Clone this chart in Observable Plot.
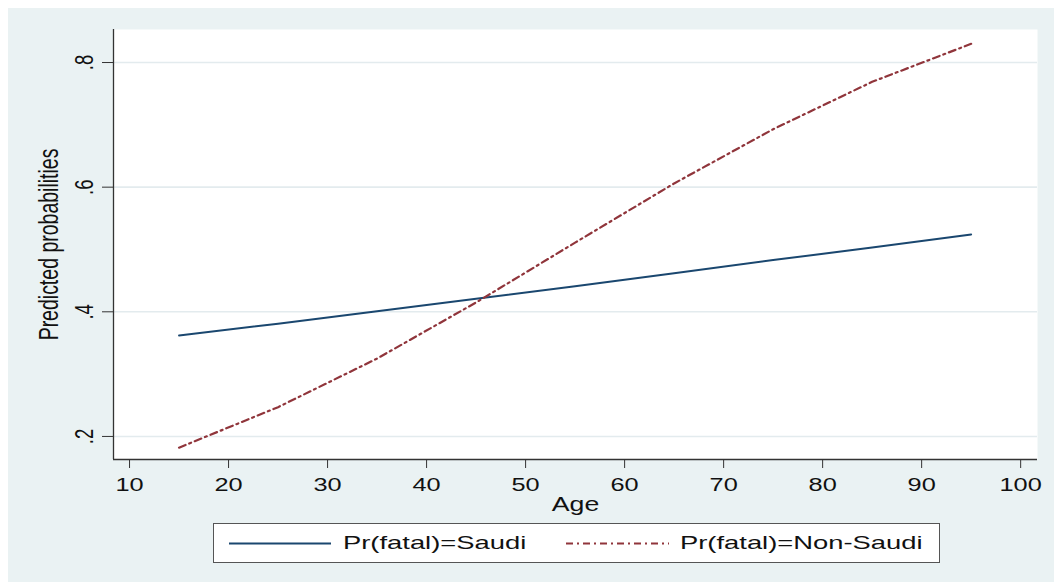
<!DOCTYPE html>
<html><head><meta charset="utf-8">
<script src="https://cdn.jsdelivr.net/npm/d3@7"></script>
<script src="https://cdn.jsdelivr.net/npm/@observablehq/plot@0.6"></script>
<style>
body{margin:0;background:#fff;}
#wrap{position:relative;width:1054px;height:582px;background:#fff;overflow:hidden;font-family:"Liberation Sans",Arial,sans-serif;}
#bg{position:absolute;left:8px;top:8px;width:1046px;height:574px;background:#eaf2f3;}
#chart{position:absolute;left:8px;top:8px;}
#legend{position:absolute;left:213px;top:523px;width:727px;height:40px;background:#fff;border:1px solid #555;box-sizing:border-box;}
#legend .lab{position:absolute;top:0;line-height:38px;font-size:19px;color:#111;white-space:nowrap;transform:scaleX(1.44);transform-origin:left center;}
#legend svg{position:absolute;left:0;top:0;}
</style></head><body>
<div id="wrap"><div id="bg"></div><div id="chart"></div><div id="legend"></div></div>
<script>
// ---- data ----
const ages = [15, 25, 35, 45, 55, 65, 75, 85, 95];
const saudi = [0.362, 0.381, 0.401, 0.421, 0.441, 0.462, 0.483, 0.503, 0.524];
const nonSaudi = [0.182, 0.247, 0.325, 0.415, 0.511, 0.606, 0.693, 0.769, 0.830];
const seriesNames = ["Pr(fatal)=Saudi", "Pr(fatal)=Non-Saudi"];
const xTicks = [10, 20, 30, 40, 50, 60, 70, 80, 90, 100];
const yTicks = [0.2, 0.4, 0.6, 0.8];
const yTickLabels = [".2", ".4", ".6", ".8"];
const xTitle = "Age";
const yTitle = "Predicted probabilities";
const colors = ["#1a476f", "#90353b"];
const dashes = [null, "7,4,2,4"];

const rows = ages.flatMap((a, i) => [
  {age: a, p: saudi[i], s: seriesNames[0]},
  {age: a, p: nonSaudi[i], s: seriesNames[1]}
]);

const xDomain = [8.38, 101.7];
const yDomain = [0.163, 0.853];
const S = 1.37;

const plot = Plot.plot({
  width: 1046, height: 508,
  marginLeft: 105, marginRight: 17, marginTop: 21, marginBottom: 57,
  style: {background: "transparent", fontFamily: "'Liberation Sans', Arial, sans-serif", fontSize: "18.5px", color: "#111"},
  x: {domain: xDomain},
  y: {domain: yDomain},
  marks: [
    Plot.frame({fill: "#fff", stroke: null}),
    Plot.gridY(yTicks, {stroke: "#e3ebee", strokeOpacity: 1, strokeWidth: 1.6}),
    Plot.line(rows.filter(d => d.s === seriesNames[0]), {x: "age", y: "p", stroke: colors[0], strokeWidth: 2}),
    Plot.line(rows.filter(d => d.s === seriesNames[1]), {x: "age", y: "p", stroke: colors[1], strokeWidth: 2.2, strokeDasharray: dashes[1]}),
    Plot.ruleX([xDomain[0]], {stroke: "#333", strokeWidth: 1.3}),
    Plot.ruleY([yDomain[0]], {stroke: "#333", strokeWidth: 1.3}),
    Plot.axisX(xTicks, {tickSize: 9, tickPadding: 9, stroke: "#333", label: null}),
    Plot.axisY(yTicks, {tickSize: 11, tickPadding: 10, tickRotate: -90, stroke: "#333", label: null,
      tickFormat: d => yTickLabels[yTicks.indexOf(d)]}),
    Plot.text([xTitle], {frameAnchor: "bottom", dy: 51, lineAnchor: "bottom", textAnchor: "middle", fontSize: 19.5, fill: "#111"}),
    Plot.text([yTitle], {frameAnchor: "left", dx: -56, rotate: -90, lineAnchor: "bottom", textAnchor: "middle", fontSize: 19.5, fill: "#111"})
  ]
});

// horizontal stretch of all texts (as in the reference rendering)
d3.select(plot).selectAll("text").each(function() {
  const t = this.getAttribute("transform");
  if (t) {
    this.setAttribute("transform", t.includes("rotate") ? t.replace("rotate", `scale(${S},1) rotate`) : t + ` scale(${S},1)`);
  } else {
    this.setAttribute("transform", `scale(${S},1)`);
  }
});
document.getElementById("chart").appendChild(plot);

// legend
const leg = d3.select("#legend");
const lsvg = leg.append("svg").attr("width", 725).attr("height", 38);
const sampleX = [[15, 117], [352, 455]];
const labelX = [129, 466];
seriesNames.forEach((name, i) => {
  lsvg.append("line").attr("x1", sampleX[i][0]).attr("x2", sampleX[i][1]).attr("y1", 19.5).attr("y2", 19.5)
    .attr("stroke", colors[i]).attr("stroke-width", 2).attr("stroke-dasharray", dashes[i]);
  leg.append("div").attr("class", "lab").style("left", labelX[i] + "px").text(name);
});
</script>
</body></html>
